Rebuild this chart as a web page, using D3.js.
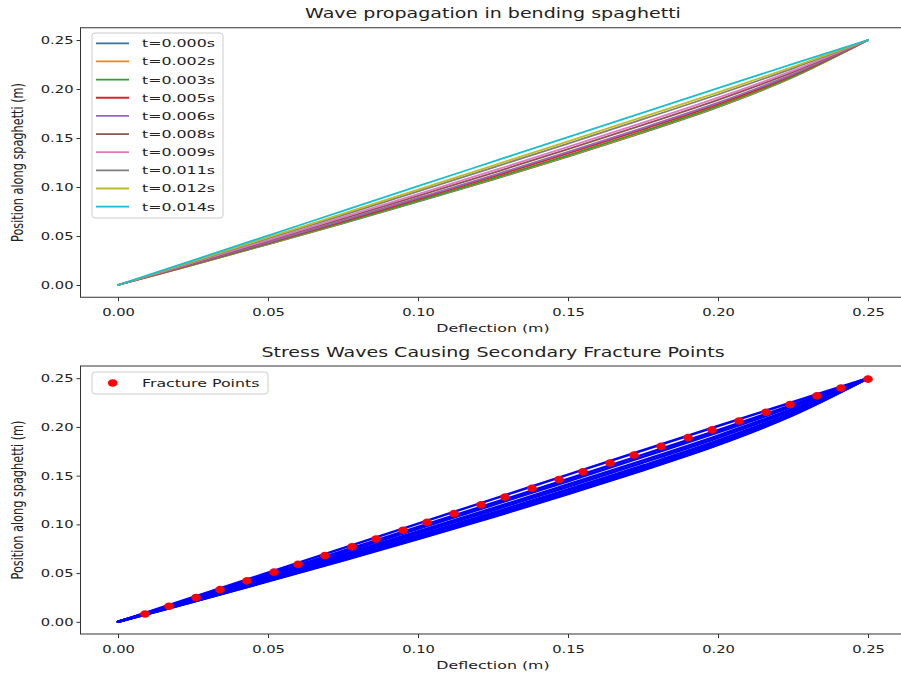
<!DOCTYPE html>
<html>
<head>
<meta charset="utf-8">
<script src="https://cdn.jsdelivr.net/npm/d3@7"></script>
<style>
body { margin: 0; background: #fff; }
text { font-family: "DejaVu Sans", sans-serif; fill: #222; }
</style>
</head>
<body>
<svg id="fig" width="901" height="675"></svg>
<script>
// deflection samples (m) shared by every time step
var deflection = [0, 0.025, 0.05, 0.075, 0.10, 0.125, 0.15, 0.175, 0.20, 0.225, 0.25];

// position along spaghetti (m) for each time step
var pos_t000 = [0, 0.0205, 0.0415, 0.0630, 0.0850, 0.1075, 0.1310, 0.1555, 0.1815, 0.2120, 0.25];
var pos_t002 = [0, 0.0206, 0.0418, 0.0634, 0.0855, 0.1080, 0.1316, 0.1561, 0.1820, 0.2124, 0.25];
var pos_t003 = [0, 0.0208, 0.0421, 0.0638, 0.0861, 0.1087, 0.1323, 0.1569, 0.1828, 0.2129, 0.25];
var pos_t005 = [0, 0.0213, 0.0429, 0.0650, 0.0876, 0.1105, 0.1342, 0.1588, 0.1846, 0.2141, 0.25];
var pos_t006 = [0, 0.0216, 0.0436, 0.0660, 0.0888, 0.1119, 0.1358, 0.1604, 0.1861, 0.2152, 0.25];
var pos_t008 = [0, 0.0223, 0.0449, 0.0678, 0.0910, 0.1145, 0.1386, 0.1633, 0.1889, 0.2172, 0.25];
var pos_t009 = [0, 0.0228, 0.0459, 0.0692, 0.0928, 0.1166, 0.1409, 0.1656, 0.1911, 0.2187, 0.25];
var pos_t011 = [0, 0.0237, 0.0475, 0.0714, 0.0955, 0.1198, 0.1443, 0.1692, 0.1944, 0.2211, 0.25];
var pos_t012 = [0, 0.0242, 0.0485, 0.0728, 0.0973, 0.1219, 0.1466, 0.1715, 0.1966, 0.2227, 0.25];
var pos_t014 = [0, 0.0252, 0.0504, 0.0756, 0.1008, 0.1259, 0.1510, 0.1760, 0.2009, 0.2256, 0.25];

var series = [pos_t000, pos_t002, pos_t003, pos_t005, pos_t006, pos_t008, pos_t009, pos_t011, pos_t012, pos_t014];
var labels = ["t=0.000s", "t=0.002s", "t=0.003s", "t=0.005s", "t=0.006s",
              "t=0.008s", "t=0.009s", "t=0.011s", "t=0.012s", "t=0.014s"];
var colors = ["#1f77b4", "#ff7f0e", "#2ca02c", "#d62728", "#9467bd",
              "#8c564b", "#e377c2", "#7f7f7f", "#bcbd22", "#17becf"];

// fracture points
var fracture_x = [0.009, 0.017, 0.026, 0.034, 0.043, 0.052, 0.060, 0.069, 0.078, 0.086,
                  0.095, 0.103, 0.112, 0.121, 0.129, 0.138, 0.147, 0.155, 0.164, 0.172,
                  0.181, 0.190, 0.198, 0.207, 0.216, 0.224, 0.233, 0.241, 0.250];
var fracture_y = [0.008, 0.016, 0.025, 0.033, 0.042, 0.051, 0.059, 0.068, 0.077, 0.085,
                  0.094, 0.102, 0.111, 0.120, 0.128, 0.137, 0.146, 0.154, 0.163, 0.171,
                  0.180, 0.189, 0.197, 0.206, 0.215, 0.223, 0.232, 0.240, 0.249];

var ticks = [0, 0.05, 0.10, 0.15, 0.20, 0.25];
var domain = [-0.0125, 0.2625];

var SX = 1.4;   // the figure is stretched sideways, text too

var svg = d3.select("#fig");

function plot_axes(box, title) {
  var x = d3.scaleLinear().domain(domain).range([box.left, box.right]);
  var y = d3.scaleLinear().domain(domain).range([box.bottom, box.top]);
  var g = svg.append("g");

  var xAxis = d3.axisBottom(x).tickValues(ticks).tickFormat(d3.format(".2f")).tickSize(4).tickPadding(7.5);
  var yAxis = d3.axisLeft(y).tickValues(ticks).tickFormat(d3.format(".2f")).tickSize(4);

  var gx = g.append("g").attr("transform", "translate(0," + box.bottom + ")").call(xAxis);
  var gy = g.append("g").attr("transform", "translate(" + box.left + ",0)").call(yAxis);
  [gx, gy].forEach(function(a) {
    a.select(".domain").remove();
    a.selectAll(".tick line").attr("stroke", "#333");
    a.selectAll(".tick text").attr("font-size", "10.5px").attr("fill", "#222")
      .attr("font-family", "DejaVu Sans, sans-serif");
  });
  gx.selectAll(".tick text").attr("transform", "scale(" + SX + ",1)");
  gy.selectAll(".tick text").attr("x", 0).attr("transform", "translate(-7,0) scale(" + SX + ",1)");

  g.append("rect")
    .attr("x", box.left).attr("y", box.top)
    .attr("width", box.right - box.left).attr("height", box.bottom - box.top)
    .attr("fill", "none").attr("stroke", "#333").attr("stroke-width", 1);

  var cx = (box.left + box.right) / 2;
  g.append("text")
    .attr("transform", "translate(" + cx + "," + (box.bottom + 34.5) + ") scale(" + SX + ",1)")
    .attr("text-anchor", "middle").style("font-size", "11.3px")
    .text("Deflection (m)");

  g.append("text")
    .attr("transform", "translate(23," + ((box.top + box.bottom) / 2) + ") scale(" + SX + ",1) rotate(-90)")
    .attr("text-anchor", "middle").style("font-size", "11.3px")
    .text("Position along spaghetti (m)");

  g.append("text")
    .attr("transform", "translate(" + cx + "," + (box.top - 9.5) + ") scale(" + SX + ",1)")
    .attr("text-anchor", "middle").style("font-size", "13.6px")
    .text(title);

  return {x: x, y: y, g: g};
}

function plot_lines(ax, color_of, width) {
  var line = d3.line()
    .x(function(d, i) { return ax.x(deflection[i]); })
    .y(function(d) { return ax.y(d); })
    .curve(d3.curveCatmullRom.alpha(0.5));
  series.forEach(function(s, k) {
    ax.g.append("path")
      .datum(s)
      .attr("fill", "none")
      .attr("stroke", color_of(k))
      .attr("stroke-width", width)
      .attr("stroke-linejoin", "round")
      .attr("stroke-linecap", "round")
      .attr("d", line);
  });
}

// top panel
var top_ax = plot_axes({left: 80.5, right: 905.5, top: 27.75, bottom: 297.25}, "Wave propagation in bending spaghetti");
plot_lines(top_ax, function(k) { return colors[k]; }, 1.8);

var leg = top_ax.g.append("g");
leg.append("rect")
  .attr("x", 92).attr("y", 33).attr("width", 131).attr("height", 185)
  .attr("rx", 3).attr("fill", "#fff").attr("fill-opacity", 0.8)
  .attr("stroke", "#ccc").attr("stroke-width", 1);
labels.forEach(function(lab, k) {
  var yy = 43.3 + k * 18.15;
  leg.append("line").attr("x1", 96).attr("x2", 129).attr("y1", yy).attr("y2", yy)
    .attr("stroke", colors[k]).attr("stroke-width", 1.8);
  leg.append("text")
    .attr("transform", "translate(142," + yy + ") scale(" + SX + ",1)")
    .attr("dy", "0.35em").style("font-size", "11.3px")
    .text(lab);
});

// bottom panel
var bot_ax = plot_axes({left: 80.5, right: 905.5, top: 366, bottom: 634}, "Stress Waves Causing Secondary Fracture Points");
plot_lines(bot_ax, function() { return "#0000ff"; }, 2.5);

bot_ax.g.selectAll("ellipse.frac")
  .data(fracture_x)
  .enter().append("ellipse")
  .attr("class", "frac")
  .attr("cx", function(d) { return bot_ax.x(d); })
  .attr("cy", function(d, i) { return bot_ax.y(fracture_y[i]); })
  .attr("rx", 4.8).attr("ry", 3.8)
  .attr("fill", "#ff0000");

var leg2 = bot_ax.g.append("g");
leg2.append("rect")
  .attr("x", 92).attr("y", 372).attr("width", 176).attr("height", 22)
  .attr("rx", 3).attr("fill", "#fff").attr("fill-opacity", 0.8)
  .attr("stroke", "#ccc").attr("stroke-width", 1);
leg2.append("ellipse").attr("cx", 112.7).attr("cy", 383).attr("rx", 4.8).attr("ry", 3.8).attr("fill", "#ff0000");
leg2.append("text")
  .attr("transform", "translate(142,383) scale(" + SX + ",1)")
  .attr("dy", "0.35em").style("font-size", "11.3px")
  .text("Fracture Points");
</script>
</body>
</html>
